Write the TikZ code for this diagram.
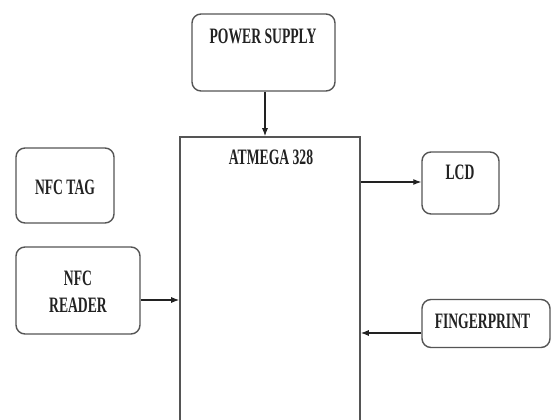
\documentclass[tikz,border=0pt]{standalone}
\usepackage{fontspec}
\setmainfont{Liberation Serif}
\usetikzlibrary{arrows.meta,calc}
\newcommand{\Lbl}[1]{\scalebox{0.62}[1]{\fontsize{22}{26}\selectfont\bfseries #1}}
\definecolor{edge}{HTML}{555555}
\definecolor{ink}{HTML}{222222}
\tikzset{
  blk/.style={draw=edge, line width=1.4pt, rounded corners=9pt, fill=white, inner sep=0pt},
  mcu/.style={draw=edge, line width=1.6pt, fill=white, inner sep=0pt},
  txt/.style={text=ink, inner sep=0pt, align=center},
  conn/.style={draw=ink, line width=1.1pt, -{Latex[length=8pt,width=6pt]}}
}
\begin{document}
\begin{tikzpicture}[x=1pt,y=-1pt]
\useasboundingbox (0,0) rectangle (552,420);
\clip (0,0) rectangle (552,420);
\fill[white] (0,0) rectangle (552,420);
% boxes
\node[blk, minimum width=143pt, minimum height=77pt] (ps) at (263.5,52.5) {};
\node[mcu, minimum width=180pt, minimum height=303pt] (atm) at (270,288.5) {};
\node[blk, minimum width=98pt, minimum height=75pt] (tag) at (65,185.5) {};
\node[blk, minimum width=124pt, minimum height=87pt] (rdr) at (78,290.5) {};
\node[blk, minimum width=77pt, minimum height=62pt] (lcd) at (460.5,183) {};
\node[blk, minimum width=128pt, minimum height=48pt] (fp) at (486,323.5) {};
% labels
\node[txt] (pst) at (263,36) {\Lbl{POWER SUPPLY}};
\node[txt] (atmt) at (271,157) {\Lbl{ATMEGA 328}};
\node[txt] (tagt) at (65,187) {\Lbl{NFC TAG}};
\node[txt] (rdrt1) at (78,278) {\Lbl{NFC}};
\node[txt] (rdrt2) at (78,305) {\Lbl{READER}};
\node[txt] (lcdt) at (460,172) {\Lbl{LCD}};
\node[txt] (fpt) at (482.5,321) {\Lbl{FINGERPRINT}};
% connectors
\draw[conn] ([xshift=1.5pt]ps.south) -- ([xshift=1.5pt]ps.south |- atm.north);
\draw[conn] ([yshift=-9.5pt]rdr.east) -- ([yshift=-9.5pt]rdr.east -| atm.west);
\draw[conn] ([yshift=1pt]lcd.west -| atm.east) -- ([yshift=1pt]lcd.west);
\draw[conn] ([yshift=-9.5pt]fp.west) -- ([yshift=-9.5pt]fp.west -| atm.east);
\end{tikzpicture}
\end{document}
